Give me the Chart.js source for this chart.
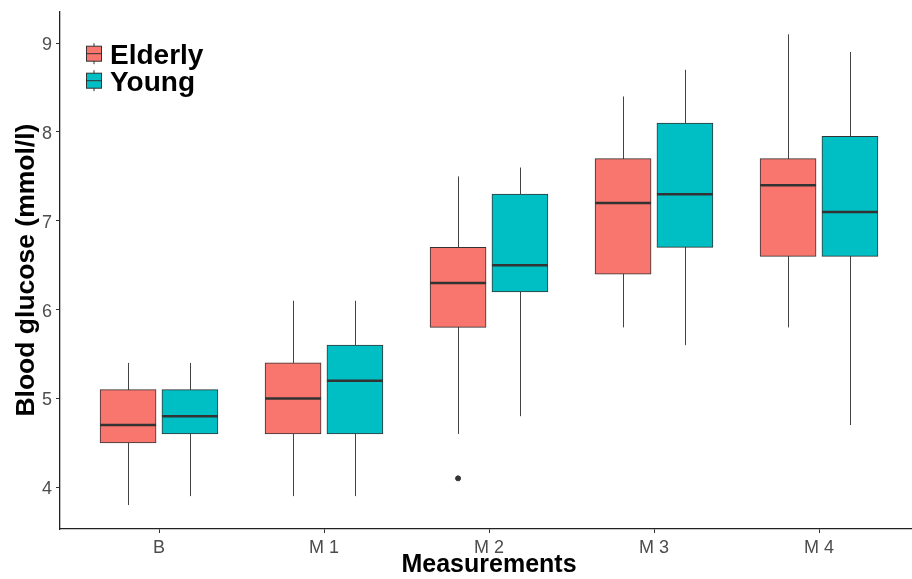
<!DOCTYPE html>
<html>
<head>
<meta charset="utf-8">
<script src="https://cdn.jsdelivr.net/npm/chart.js@4.4.1/dist/chart.umd.min.js"></script>
<style>
  html, body { margin: 0; padding: 0; background: #fff; overflow: hidden; }
  /* the ggplot panel runs a little past the right edge of the picture */
  #wrap { width: 923px; height: 579px; }
</style>
</head>
<body>
<div id="wrap"><canvas id="chart"></canvas></div>
<script>
// Box plot statistics (mmol/l)
const categories = ['B', 'M 1', 'M 2', 'M 3', 'M 4'];
const groups = ['Elderly', 'Young'];

const elderlyMin    = [3.8, 3.9, 4.6, 5.8, 5.8];
const elderlyQ1     = [4.5, 4.6, 5.8, 6.4, 6.6];
const elderlyMedian = [4.7, 5.0, 6.3, 7.2, 7.4];
const elderlyQ3     = [5.1, 5.4, 6.7, 7.7, 7.7];
const elderlyMax    = [5.4, 6.1, 7.5, 8.4, 9.1];

const youngMin    = [3.9, 3.9, 4.8, 5.6, 4.7];
const youngQ1     = [4.6, 4.6, 6.2, 6.7, 6.6];
const youngMedian = [4.8, 5.2, 6.5, 7.3, 7.1];
const youngQ3     = [5.1, 5.6, 7.3, 8.1, 7.95];
const youngMax    = [5.4, 6.1, 7.6, 8.7, 8.9];

// outliers (category index + value)
const elderlyOutlierCat = [2];
const elderlyOutlierVal = [4.1];

const yTicks = [4, 5, 6, 7, 8, 9];

const colors = ['#F8766D', '#00BFC4'];
const dodge = 0.1875;
const boxPx = 56;
const fontFamily = 'Liberation Sans, Arial, sans-serif';

const stats = [
    { min: elderlyMin, q1: elderlyQ1, med: elderlyMedian, q3: elderlyQ3, max: elderlyMax },
    { min: youngMin, q1: youngQ1, med: youngMedian, q3: youngQ3, max: youngMax }
];

function boxData(s) {
    return categories.map((c, i) => ({ x: i + (s === 0 ? -dodge : dodge), y: [stats[s].q1[i], stats[s].q3[i]] }));
}

// whiskers, medians and the legend (drawn inside the panel, like ggplot)
const boxPlugin = {
    id: 'boxParts',
    beforeDatasetsDraw(chart) {
        const { ctx, scales: { x, y } } = chart;
        ctx.save();
        ctx.strokeStyle = '#444';
        ctx.lineWidth = 1;
        stats.forEach((s, d) => {
            categories.forEach((c, i) => {
                const px = Math.round(x.getPixelForValue(i + (d === 0 ? -dodge : dodge))) + 0.5;
                ctx.beginPath();
                ctx.moveTo(px, y.getPixelForValue(s.min[i]));
                ctx.lineTo(px, y.getPixelForValue(s.max[i]));
                ctx.stroke();
            });
        });
        ctx.restore();
    },
    afterDatasetsDraw(chart) {
        const { ctx, scales: { y } } = chart;
        ctx.save();
        ctx.strokeStyle = '#333';
        ctx.lineWidth = 2.5;
        stats.forEach((s, d) => {
            const meta = chart.getDatasetMeta(d);
            meta.data.forEach((bar, i) => {
                const py = y.getPixelForValue(s.med[i]);
                ctx.beginPath();
                ctx.moveTo(bar.x - bar.width / 2, py);
                ctx.lineTo(bar.x + bar.width / 2, py);
                ctx.stroke();
            });
        });
        ctx.restore();
    },
    afterDraw(chart) {
        const { ctx, chartArea } = chart;
        ctx.save();
        groups.forEach((g, k) => {
            const top = chartArea.top + 32 + k * 27;   // whisker top of the key
            const bx = chartArea.left + 26.5;
            ctx.strokeStyle = '#333';
            ctx.lineWidth = 1;
            ctx.beginPath();
            ctx.moveTo(bx + 7.5, top);
            ctx.lineTo(bx + 7.5, top + 21);
            ctx.stroke();
            ctx.fillStyle = colors[k];
            ctx.fillRect(bx, top + 3, 15, 15);
            ctx.strokeRect(bx, top + 3, 15, 15);
            ctx.beginPath();
            ctx.moveTo(bx, top + 10.5);
            ctx.lineTo(bx + 15, top + 10.5);
            ctx.stroke();
            ctx.fillStyle = '#000';
            ctx.font = 'bold 28px ' + fontFamily;
            ctx.textBaseline = 'alphabetic';
            ctx.fillText(g, chartArea.left + 50, top + 20.5);
        });
        ctx.restore();
    }
};

new Chart(document.getElementById('chart'), {
    type: 'bar',
    data: {
        datasets: [
            {
                label: groups[0],
                data: boxData(0),
                backgroundColor: colors[0],
                borderColor: '#333',
                borderWidth: 1,
                borderSkipped: false,
                barThickness: boxPx,
                grouped: false
            },
            {
                label: groups[1],
                data: boxData(1),
                backgroundColor: colors[1],
                borderColor: '#333',
                borderWidth: 1,
                borderSkipped: false,
                barThickness: boxPx,
                grouped: false
            },
            {
                type: 'scatter',
                label: 'outliers',
                data: elderlyOutlierCat.map((c, k) => ({ x: c - dodge, y: elderlyOutlierVal[k] })),
                backgroundColor: '#333',
                borderColor: '#333',
                pointRadius: 2.5
            }
        ]
    },
    options: {
        responsive: true,
        maintainAspectRatio: false,
        animation: false,
        layout: { padding: { top: 11, right: 0, left: 0, bottom: 0 } },
        plugins: {
            tooltip: { enabled: false },
            legend: { display: false }
        },
        scales: {
            x: {
                type: 'linear',
                offset: false,
                min: -0.6,
                max: 4.6,
                afterBuildTicks: axis => { axis.ticks = categories.map((c, i) => ({ value: i })); },
                afterFit: axis => { axis.height = 50; },
                ticks: {
                    callback: (v) => categories[v],
                    color: '#4D4D4D',
                    font: { family: fontFamily, size: 18 },
                    padding: 4,
                    maxRotation: 0,
                    autoSkip: false
                },
                grid: { display: true, offset: false, drawOnChartArea: false, drawTicks: true, tickLength: 4, color: '#333' },
                border: { display: true, color: '#222', width: 1.3 },
                title: {
                    display: true,
                    text: 'Measurements',
                    color: '#000',
                    font: { family: fontFamily, size: 25, weight: 'bold', lineHeight: 1 },
                    padding: { top: 0, bottom: 1 }
                }
            },
            y: {
                min: 3.53,
                max: 9.36,
                afterBuildTicks: axis => { axis.ticks = yTicks.map(v => ({ value: v })); },
                afterFit: axis => { axis.width = 60; },
                ticks: {
                    color: '#4D4D4D',
                    font: { family: fontFamily, size: 18, lineHeight: 0.8 },
                    padding: 4,
                    labelOffset: 2
                },
                grid: { display: true, drawOnChartArea: false, drawTicks: true, tickLength: 4, color: '#333' },
                border: { display: true, color: '#222', width: 1.3 },
                title: {
                    display: true,
                    text: 'Blood glucose (mmol/l)',
                    color: '#000',
                    font: { family: fontFamily, size: 26.5, weight: 'bold', lineHeight: 1 },
                    padding: { top: 13, bottom: 0 }
                }
            }
        }
    },
    plugins: [boxPlugin]
});
</script>
</body>
</html>
